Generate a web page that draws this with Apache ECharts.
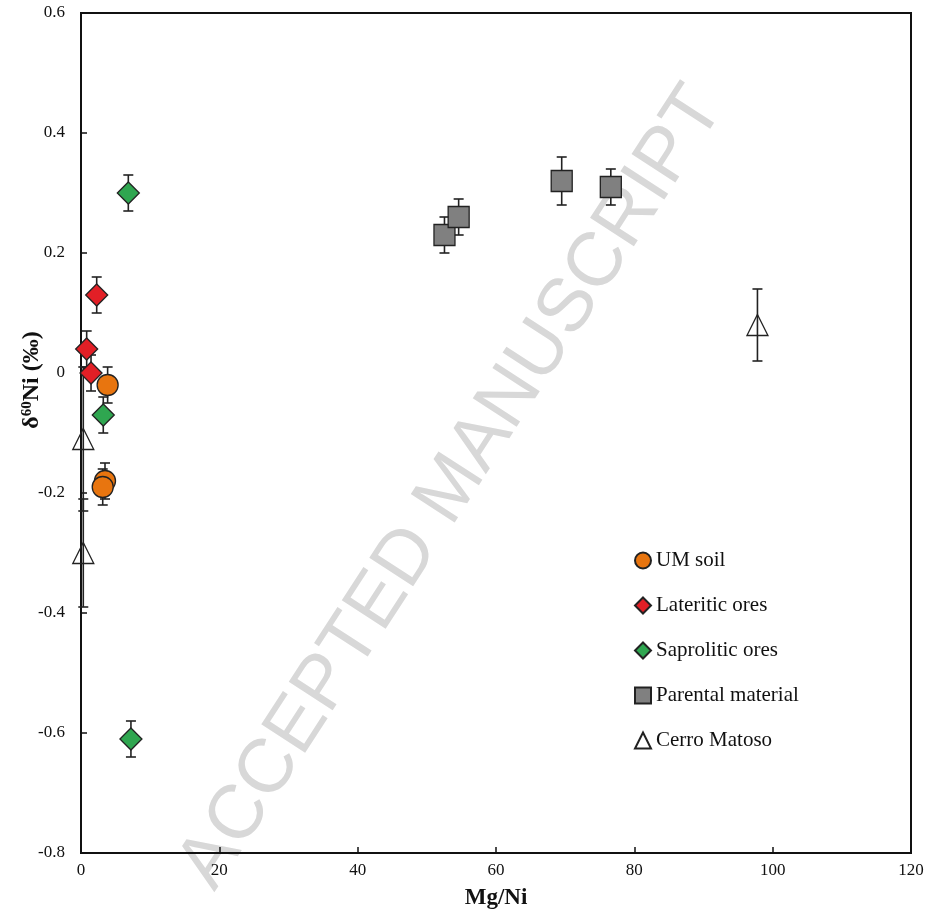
<!DOCTYPE html>
<html>
<head>
<meta charset="utf-8">
<script src="https://cdn.jsdelivr.net/npm/echarts@6/dist/echarts.min.js"></script>
<style>
  html, body { margin: 0; padding: 0; background: #fff; }
  #chart { width: 929px; height: 915px; }
</style>
</head>
<body>
<div id="chart"></div>
<script>
// [Mg/Ni, d60Ni, error]
const umSoil = [[3.85, -0.02, 0.03], [3.47, -0.18, 0.03], [3.14, -0.19, 0.03]];
const lateriticOres = [[2.27, 0.13, 0.03], [0.82, 0.04, 0.03], [1.45, 0.0, 0.03]];
const saproliticOres = [[6.84, 0.30, 0.03], [3.22, -0.07, 0.03], [7.22, -0.61, 0.03]];
const parentalMaterial = [[52.55, 0.23, 0.03], [54.6, 0.26, 0.03], [69.5, 0.32, 0.04], [76.6, 0.31, 0.03]];
const cerroMatoso = [[97.8, 0.08, 0.06], [0.33, -0.11, 0.12], [0.33, -0.30, 0.09]];

const serif = '"Liberation Serif", "DejaVu Serif", serif';
const chart = echarts.init(document.getElementById('chart'));

const errorBars = {
  type: 'custom',
  silent: true,
  z: 1,
  data: [].concat(umSoil, lateriticOres, saproliticOres, parentalMaterial, cerroMatoso),
  renderItem: (params, api) => {
    const x = api.value(0), y = api.value(1), e = api.value(2);
    const top = api.coord([x, y + e]);
    const bot = api.coord([x, y - e]);
    const w = 5;
    const style = { stroke: '#222', lineWidth: 1.6 };
    return {
      type: 'group',
      children: [
        { type: 'line', shape: { x1: top[0], y1: top[1], x2: bot[0], y2: bot[1] }, style },
        { type: 'line', shape: { x1: top[0] - w, y1: top[1], x2: top[0] + w, y2: top[1] }, style },
        { type: 'line', shape: { x1: bot[0] - w, y1: bot[1], x2: bot[0] + w, y2: bot[1] }, style }
      ]
    };
  }
};

const scatter = (name, data, symbol, size, color) => ({
  name, type: 'scatter', data, symbol, symbolSize: size, z: 3,
  itemStyle: { color, borderColor: '#222', borderWidth: 1.3, opacity: 1 }
});

chart.setOption({
  animation: false,
  grid: {
    left: 81, right: 18, top: 13, bottom: 62, outerBoundsMode: 'none',
    show: true, borderColor: '#111', borderWidth: 2
  },
  graphic: [{
    type: 'text', z: 0, silent: true,
    x: 452, y: 488, rotation: 57 * Math.PI / 180,
    style: {
      text: 'ACCEPTED MANUSCRIPT', fill: '#d8d8d8',
      font: '76px "Liberation Sans", sans-serif',
      align: 'center', verticalAlign: 'middle'
    }
  }],
  legend: {
    orient: 'vertical', left: 634, top: 550, itemGap: 24, padding: 0,
    itemWidth: 16, itemHeight: 16,
    textStyle: { fontFamily: serif, fontSize: 21, color: '#111' },
    data: ['UM soil', 'Lateritic ores', 'Saprolitic ores', 'Parental material', 'Cerro Matoso']
  },
  xAxis: {
    type: 'value', min: 0, max: 120, interval: 20,
    name: 'Mg/Ni', nameLocation: 'middle', nameGap: 34,
    nameTextStyle: { fontFamily: serif, fontSize: 23, fontWeight: 'bold', color: '#111' },
    axisLine: { onZero: false, lineStyle: { color: '#111', width: 2 } },
    axisTick: { inside: true, length: 6, lineStyle: { color: '#111', width: 1.5 } },
    axisLabel: { fontFamily: serif, fontSize: 17, color: '#111', margin: 9 },
    splitLine: { show: false }
  },
  yAxis: {
    type: 'value', min: -0.8, max: 0.6, interval: 0.2,
    name: '{a|δ}{s|60}{a|Ni (‰)}', nameLocation: 'middle', nameGap: 37,
    nameMoveOverlap: false,
    nameTextStyle: {
      padding: [0, 0, 0, 106],
      rich: {
        a: { fontFamily: serif, fontSize: 24, fontWeight: 'bold', color: '#111' },
        s: { fontFamily: serif, fontSize: 15, fontWeight: 'bold', color: '#111', verticalAlign: 'top', lineHeight: 12 }
      }
    },
    axisLine: { onZero: false, lineStyle: { color: '#111', width: 2 } },
    axisTick: { inside: true, length: 6, lineStyle: { color: '#111', width: 1.5 } },
    axisLabel: { fontFamily: serif, fontSize: 17, color: '#111', margin: 16 },
    splitLine: { show: false }
  },
  series: [
    errorBars,
    scatter('UM soil', umSoil, 'circle', 21, '#e8750f'),
    scatter('Lateritic ores', lateriticOres, 'diamond', 22, '#e21f26'),
    scatter('Saprolitic ores', saproliticOres, 'diamond', 22, '#2fa650'),
    scatter('Parental material', parentalMaterial, 'rect', 21, '#808080'),
    scatter('Cerro Matoso', cerroMatoso, 'triangle', 21, 'rgba(255,255,255,0)')
  ]
});
</script>
</body>
</html>
